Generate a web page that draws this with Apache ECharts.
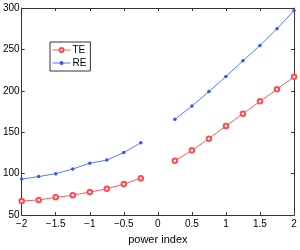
<!DOCTYPE html>
<html><head><meta charset="utf-8">
<script src="https://cdn.jsdelivr.net/npm/echarts@6/dist/echarts.min.js"></script>
<style>html,body{margin:0;padding:0;background:#fff}#c{width:300px;height:250px}</style>
</head><body><div id="c"></div>
<script>
const xLeft = [-2, -1.75, -1.5, -1.25, -1, -0.75, -0.5, -0.25];
const xRight = [0.25, 0.5, 0.75, 1, 1.25, 1.5, 1.75, 2];
const teLeft = [67, 68.3, 71.4, 74, 77.8, 81.7, 87.4, 94.6];
const teRight = [115.6, 128.2, 142.3, 157.6, 172.4, 187.3, 201.8, 217];
const reLeft = [93.5, 96.5, 100, 105.7, 112.6, 116.4, 125.5, 137.3];
const reRight = [165.6, 181.6, 199.1, 217.4, 236.2, 254.8, 275, 297];
const xLabel = 'power index';

function build(l, r) {
  const d = xLeft.map((x, i) => [x, l[i]]);
  d.push([0, null]);
  xRight.forEach((x, i) => d.push([x, r[i]]));
  return d;
}
const font = 'Liberation Sans';
const axisLine = {show: true, onZero: false, lineStyle: {color: '#333', width: 1}};
const tick = {show: true, inside: true, length: 3, lineStyle: {color: '#333'}};
const chart = echarts.init(document.getElementById('c'), null, {renderer: 'canvas'});
chart.setOption({
  animation: false,
  grid: {left: 16, right: 6, top: 8, bottom: 24, containLabel: false},
  legend: {
    left: 50, top: 42, orient: 'vertical', itemGap: 3, itemWidth: 18, itemHeight: 5,
    padding: [3, 4, 3, 2], borderColor: '#333', borderWidth: 1, backgroundColor: '#fff',
    lineStyle: {width: 1}, itemStyle: {borderWidth: 0.8},
    textStyle: {fontFamily: font, fontSize: 10, color: '#000', padding: [0, 0, 0, -3]},
    data: ['TE', 'RE']
  },
  xAxis: [
    {type: 'value', min: -2, max: 2, interval: 0.5, axisLine, axisTick: tick, splitLine: {show: false},
     axisLabel: {fontFamily: font, fontSize: 10, color: '#000', margin: 4,
       formatter: v => String(v).replace('-', '\u2212')},
     name: xLabel, nameLocation: 'middle', nameGap: 17,
     nameTextStyle: {fontFamily: font, fontSize: 11, color: '#000'}},
    {type: 'value', min: -2, max: 2, interval: 0.5, position: 'top', axisLine, axisTick: tick,
     axisLabel: {show: false}, splitLine: {show: false}}
  ],
  yAxis: [
    {type: 'value', min: 50, max: 300, interval: 50, axisLine, axisTick: tick, splitLine: {show: false},
     axisLabel: {fontFamily: font, fontSize: 10, color: '#000', margin: 2}},
    {type: 'value', min: 50, max: 300, interval: 50, position: 'right', axisLine, axisTick: tick,
     axisLabel: {show: false}, splitLine: {show: false}}
  ],
  series: [
    {name: 'TE', type: 'line', data: build(teLeft, teRight), connectNulls: false,
     symbol: 'emptyCircle', symbolSize: 4.5, color: '#ff4d4d',
     lineStyle: {width: 1, color: '#ff5a5a'}, itemStyle: {color: '#ff4d4d', borderWidth: 0.8}},
    {name: 'RE', type: 'line', data: build(reLeft, reRight), connectNulls: false,
     symbol: 'circle', symbolSize: 3.5, color: '#4466ff',
     lineStyle: {width: 1, color: '#5a78ff'}, itemStyle: {color: '#3355ff'}}
  ]
});
</script></body></html>
